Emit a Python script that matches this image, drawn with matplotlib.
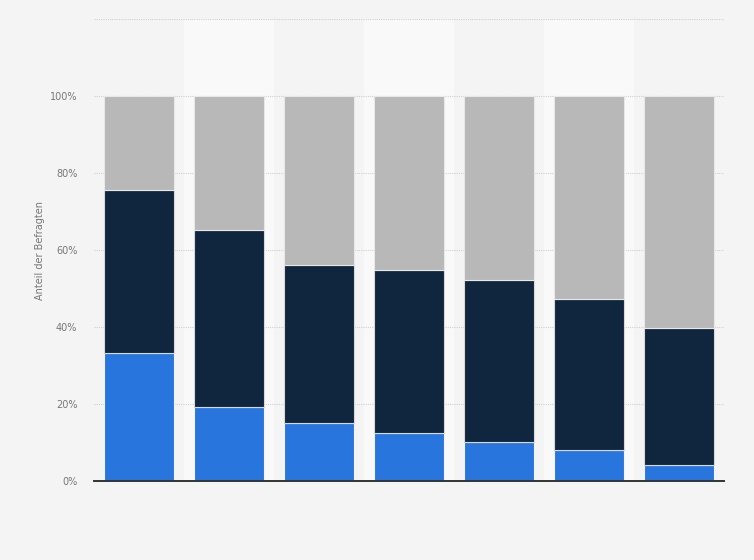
import matplotlib
matplotlib.use("Agg")
import matplotlib.pyplot as plt
import numpy as np

categories = ["1", "2", "3", "4", "5", "6", "7"]
blue_vals = [33.3, 19.3, 15.1, 12.5, 10.2, 8.1, 4.2]
dark_vals = [42.2, 45.8, 40.9, 42.2, 42.1, 39.3, 35.6]
gray_vals = [24.5, 34.9, 44.0, 45.3, 47.7, 52.6, 60.2]
yticks = [0, 20, 40, 60, 80, 100]
ytick_labels = ["0%", "20%", "40%", "60%", "80%", "100%"]

fig = plt.figure(figsize=(7.54, 5.6), dpi=100)
fig.patch.set_facecolor("#f4f4f4")
ax = fig.add_axes([94/754, 1-481/560, 630/754, (481-19)/560])
ax.set_facecolor("#f4f4f4")

x = np.arange(len(categories))
ax.set_xlim(-0.5, len(categories) - 0.5)
ax.set_ylim(0, 120)

for i in x:
    if i % 2 == 1:
        ax.axvspan(i - 0.5, i + 0.5, color="#f9f9f9", zorder=0, lw=0)

for yv in [20, 40, 60, 80, 100, 120]:
    ax.axhline(yv, color="#d0d0d0", lw=0.8, ls=(0, (1, 1)), zorder=1)

w = 0.767
b = np.array(blue_vals)
d = np.array(dark_vals)
g = np.array(gray_vals)
ax.bar(x, b, width=w, color="#2876dd", edgecolor="#f4f4f4", linewidth=0.8, zorder=3)
ax.bar(x, d, width=w, bottom=b, color="#0f263e", edgecolor="#d8d8d8", linewidth=0.8, zorder=3)
ax.bar(x, g, width=w, bottom=b + d, color="#b8b8b8", edgecolor="#e8e8e8", linewidth=0.8, zorder=3)

for s in ["top", "right", "left"]:
    ax.spines[s].set_visible(False)
ax.spines["bottom"].set_color("#333333")
ax.spines["bottom"].set_linewidth(1.4)
ax.spines["bottom"].set_zorder(5)

ax.set_xticks([])
ax.set_yticks(yticks)
ax.set_yticklabels(ytick_labels, fontsize=7, color="#777777")
ax.tick_params(axis="y", length=0, pad=12)
fig.text(40/754, 1-250/560, "Anteil der Befragten", fontsize=7, color="#777777",
         rotation=90, ha="center", va="center")

fig.savefig("out.png", dpi=100, facecolor=fig.get_facecolor())
